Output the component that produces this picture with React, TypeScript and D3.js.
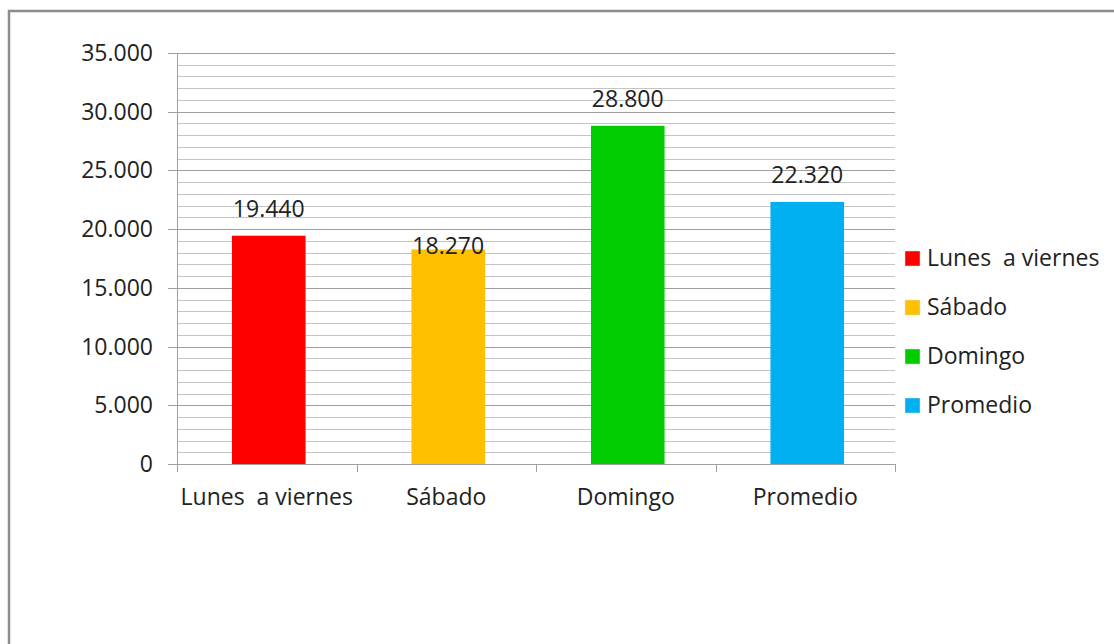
import React from "react";
import * as d3 from "d3";

const categories = ["Lunes  a viernes", "Sábado", "Domingo", "Promedio"];
const values = [19440, 18270, 28800, 22320];
const colors = ["#ff0000", "#ffc000", "#00cc00", "#00b0f0"];
const yTicks = [0, 5000, 10000, 15000, 20000, 25000, 30000, 35000];

const W = 1114;
const H = 644;
const FONT = "'Open Sans', sans-serif";
const FS = 23;

const fmt = (v: number) => {
  const s = d3.format(",")(v);
  return s.replace(/,/g, ".");
};

export default function App() {
  const left = 177;
  const right = 895;
  const top = 53;
  const bottom = 464;

  const x = d3.scaleBand<string>().domain(categories).range([left + 2, right + 2]).paddingInner(0.59).paddingOuter(0.295);
  const y = d3.scaleLinear().domain([0, 35000]).range([bottom, top]);
  const minor = d3.range(0, 35001, 1000);
  const bandStep = (right - left) / categories.length;

  return (
    <svg width={W} height={H} style={{ position: "absolute", left: 0, top: 0, background: "#fff", whiteSpace: "pre" }} fontFamily={FONT}>
      <rect x={9} y={11} width={W + 20} height={H + 20} fill="#fff" stroke="#8c8c8c" strokeWidth={2.5} />
      {minor.map((v) => (
        <line key={"m" + v} x1={left} x2={right} y1={Math.round(y(v)) + 0.5} y2={Math.round(y(v)) + 0.5}
          stroke={v % 5000 === 0 ? "#a0a0a0" : "#c4c4c4"} strokeWidth={1} />
      ))}
      {/* axes */}
      <line x1={left + 0.5} x2={left + 0.5} y1={top} y2={bottom + 8} stroke="#a0a0a0" />
      <line x1={left} x2={right} y1={bottom + 0.5} y2={bottom + 0.5} stroke="#a0a0a0" />
      {yTicks.map((v) => (
        <g key={"t" + v}>
          <line x1={left - 9} x2={left} y1={Math.round(y(v)) + 0.5} y2={Math.round(y(v)) + 0.5} stroke="#a0a0a0" />
          <text x={left - 24} y={y(v)} dy="0.35em" textAnchor="end" fontSize={FS} fill="#222">{fmt(v)}</text>
        </g>
      ))}
      {d3.range(categories.length + 1).map((i) => (
        <line key={"ct" + i} x1={Math.round(left + i * bandStep) + 0.5} x2={Math.round(left + i * bandStep) + 0.5}
          y1={bottom} y2={bottom + 8} stroke="#a0a0a0" />
      ))}
      {categories.map((c, i) => (
        <g key={c}>
          <rect x={x(c)} y={y(values[i])} width={x.bandwidth()} height={bottom - y(values[i])} fill={colors[i]} />
          <text x={(x(c) as number) + x.bandwidth() / 2} y={y(values[i]) - (i === 1 ? 4 : 27)} dy="0.35em"
            textAnchor="middle" fontSize={FS} fill="#222">{fmt(values[i])}</text>
          <text x={left + (i + 0.5) * bandStep} y={505} textAnchor="middle" fontSize={FS} fill="#222" xmlSpace="preserve">{c}</text>
        </g>
      ))}
      {categories.map((c, i) => (
        <g key={"lg" + c} transform={`translate(905, ${258 + i * 49})`}>
          <rect x={0} y={-7} width={15} height={15} fill={colors[i]} stroke="#ddd" strokeWidth={0.5} />
          <text x={22} y={0} dy="0.35em" fontSize={FS} fill="#222" xmlSpace="preserve">{c}</text>
        </g>
      ))}
    </svg>
  );
}
